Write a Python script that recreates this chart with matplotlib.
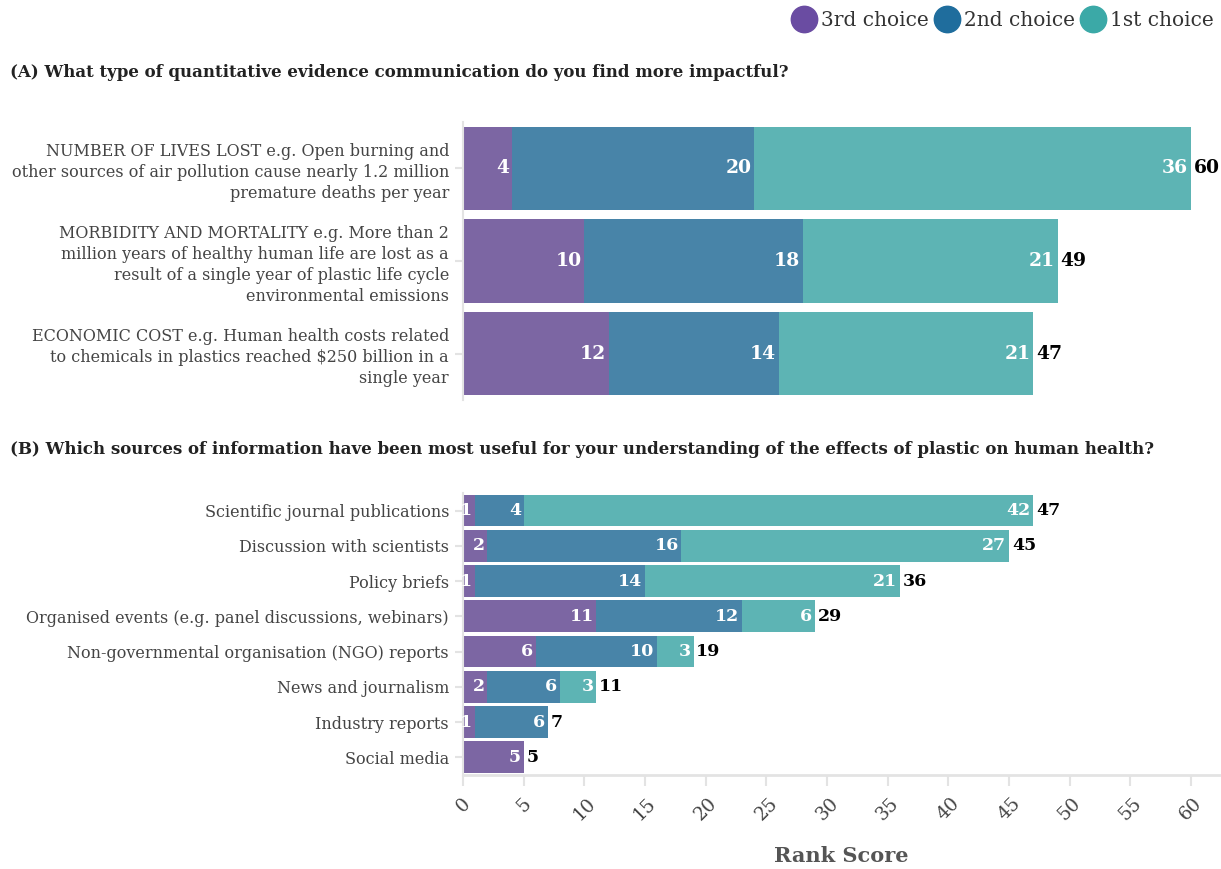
import matplotlib.pyplot as plt
import numpy as np

plt.rcParams['font.family'] = ['DejaVu Serif']

# (A) evidence types, top to bottom
cats_a = ['NUMBER OF LIVES LOST e.g. Open burning and\nother sources of air pollution cause nearly 1.2 million\npremature deaths per year',
          'MORBIDITY AND MORTALITY e.g. More than 2\nmillion years of healthy human life are lost as a\nresult of a single year of plastic life cycle\nenvironmental emissions',
          'ECONOMIC COST e.g. Human health costs related\nto chemicals in plastics reached $250 billion in a\nsingle year']
third_a = [4, 10, 12]
second_a = [20, 18, 14]
first_a = [36, 21, 21]

# (B) information sources, top to bottom
cats_b = ['Scientific journal publications', 'Discussion with scientists', 'Policy briefs',
          'Organised events (e.g. panel discussions, webinars)',
          'Non-governmental organisation (NGO) reports', 'News and journalism',
          'Industry reports', 'Social media']
third_b = [1, 2, 1, 11, 6, 2, 1, 5]
second_b = [4, 16, 14, 12, 10, 6, 6, 0]
first_b = [42, 27, 21, 6, 3, 3, 0, 0]

colors = ['#7c66a3', '#4884a8', '#5db4b4']
legend_colors = ['#6a4ca2', '#1f6d9d', '#3ba9a7']
names = ['3rd choice', '2nd choice', '1st choice']

fig = plt.figure(figsize=(12.21, 8.69), dpi=100)
ax_a = fig.add_axes([0.3792, 0.5397, 0.6192, 0.3199])
ax_b = fig.add_axes([0.3792, 0.1082, 0.6192, 0.3245])

grid = '#e3e3e3'


def draw(ax, cats, series, fs_tick, fs_num, lsp):
    y = np.arange(len(cats))
    left = np.zeros(len(cats))
    for vals, c in zip(series, colors):
        vals = np.array(vals, dtype=float)
        ax.barh(y, vals, left=left, height=0.9, color=c, edgecolor='none')
        for yi, l, v in zip(y, left, vals):
            if v > 0:
                ax.annotate(str(int(v)), (l + v, yi), xytext=(-2, 0), textcoords='offset points',
                            ha='right', va='center', color='white', fontsize=fs_num,
                            fontweight='bold')
        left += vals
    for yi, t in zip(y, left):
        ax.annotate(str(int(t)), (t, yi), xytext=(2, 0), textcoords='offset points',
                    ha='left', va='center', color='black', fontsize=fs_num, fontweight='bold')
    ax.set_yticks(y)
    ax.set_yticklabels(cats, fontsize=fs_tick, color='#444444', linespacing=lsp)
    ax.set_ylim(len(cats) - 0.5, -0.5)
    ax.set_xlim(0, 62.3)
    ax.tick_params(axis='y', length=6, color=grid, width=1.5, pad=4)
    for s in ['top', 'right']:
        ax.spines[s].set_visible(False)
    ax.spines['left'].set_color(grid)
    ax.spines['left'].set_linewidth(1.5)


draw(ax_a, cats_a, [third_a, second_a, first_a], 11.5, 13.5, 1.3)
draw(ax_b, cats_b, [third_b, second_b, first_b], 11.5, 12.5, 1.1)

ax_a.spines['bottom'].set_visible(False)
ax_a.set_xticks([])

ax_b.spines['bottom'].set_color(grid)
ax_b.spines['bottom'].set_linewidth(2)
ax_b.set_xticks(np.arange(0, 61, 5))
ax_b.set_xticklabels([str(v) for v in range(0, 61, 5)], rotation=45, fontsize=13.5, color='#444444')
ax_b.tick_params(axis='x', length=8, color=grid, width=1.5, pad=6)

fig.text(0.6888, 0.015, 'Rank Score', fontsize=15, fontweight='bold', color='#555555',
         ha='center', va='center')

fig.text(0.008, 0.916, '(A) What type of quantitative evidence communication do you find more impactful?',
         fontsize=12, fontweight='bold', color='#222222', va='center')
fig.text(0.008, 0.483, '(B) Which sources of information have been most useful for your understanding of the effects of plastic on human health?',
         fontsize=12, fontweight='bold', color='#222222', va='center')

handles = [plt.Line2D([], [], marker='o', linestyle='none', markersize=19, color=c) for c in legend_colors]
fig.legend(handles, names, loc='upper right', bbox_to_anchor=(1.009, 1.008), ncol=3, frameon=False,
           fontsize=14.5, handletextpad=0.35, columnspacing=0.4, labelcolor='#333333', handlelength=1.0)

fig.savefig('out.png', dpi=100)
